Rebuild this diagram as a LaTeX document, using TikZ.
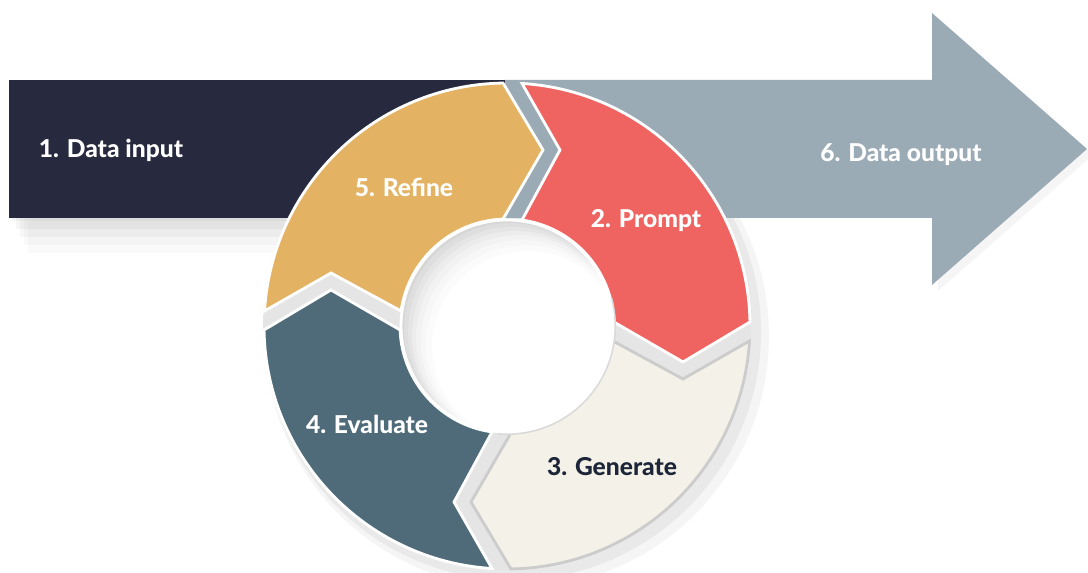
\documentclass[tikz,border=0pt]{standalone}
\usepackage{fontspec}
\setmainfont{Lato}[BoldFont={Lato Heavy}]
\usepackage{tikz}
\usetikzlibrary{positioning}
\usetikzlibrary{calc}
\usepackage{color}

\definecolor{navy}{HTML}{272A3E}
\definecolor{steel}{HTML}{9BABB5}
\definecolor{mustard}{HTML}{E3B262}
\definecolor{coral}{HTML}{EF6461}
\definecolor{ivory}{HTML}{F4F2E8}
\definecolor{slate}{HTML}{4F6B79}
\definecolor{ink}{HTML}{1C2638}

\begin{document}
\begin{tikzpicture}[
x=0.02cm, y=0.02cm,
bigtext/.style={font=\bfseries\fontsize{14}{16}\selectfont, text=white},
segtext/.style={font=\bfseries\fontsize{14}{16}\selectfont, text=white},
segedge/.style={draw=white, line width=1.6pt, line join=miter},
ringseg/.pic={
  \path[pic actions] (176.46:243) arc[start angle=176.46, end angle=90.94, radius=243]
    -- (36,176) -- (92.14:107) arc[start angle=92.14, end angle=171.94, radius=107]
    -- (-176,53) -- cycle;
},
]
\useasboundingbox (0,0) rectangle (1088,573);
\coordinate (hub) at (507,247);

%Shadows
\fill[black, opacity=0.04] (12,352) rectangle (505,490);
\fill[black, opacity=0.035] (16,344) rectangle (505,486);
\fill[black, opacity=0.03] (20,336) rectangle (505,482);
\fill[black, opacity=0.025] (24,328) rectangle (505,478);
\fill[black, opacity=0.02] (28,320) rectangle (505,474);
\fill[black, opacity=0.04] (938,282) -- (1093,418) -- (938,554) -- cycle;
\fill[black, opacity=0.05] ($(hub)+(6,-6)$) circle[radius=248];
\fill[black, opacity=0.04] ($(hub)+(10,-10)$) circle[radius=252];
\fill[black!10] (hub) circle[radius=244];

%Bars
\fill[steel] (505,355) -- (932,355) -- (932,288) -- (1087,424)
  -- (932,560) -- (932,493) -- (505,493) -- cycle;
\fill[navy] (9,355) rectangle (505,493);

%Ring
\pic[fill=mustard, segedge] at (hub) {ringseg};
\pic[rotate=-90, fill=coral, segedge] at (hub) {ringseg};
\pic[rotate=-180, fill=ivory, draw=black!20, line width=1.6pt] at (hub) {ringseg};
\pic[rotate=90, fill=slate, segedge] at (hub) {ringseg};

%Hole in the middle
\begin{scope}
\clip (hub) circle[radius=106];
\fill[black!16] (hub) circle[radius=106];
\fill[black!13] ($(hub)+(3,-3)$) circle[radius=106];
\fill[black!10] ($(hub)+(6,-6)$) circle[radius=105];
\fill[black!7.5] ($(hub)+(9,-9)$) circle[radius=104];
\fill[black!5] ($(hub)+(12,-12)$) circle[radius=103];
\fill[black!3] ($(hub)+(15,-15)$) circle[radius=101];
\fill[black!1.5] ($(hub)+(18,-18)$) circle[radius=99];
\fill[white] ($(hub)+(21,-21)$) circle[radius=96];
\end{scope}
\draw[black!15, line width=1.2pt] ($(hub)+(-95:108)$) arc[start angle=-95, end angle=15, radius=108];
\draw[white, line width=1.6pt] (hub) circle[radius=106];

%Text
\node[bigtext] (datain)   at (111,423) {1. Data input};
\node[bigtext] (dataout)  at (901,418) {6. Data output};
\node[segtext] (refine)   at (404,386) {5. Refine};
\node[segtext] (prompt)   at (646,352) {2. Prompt};
\node[segtext, text=ink] (generate) at (612,106) {3. Generate};
\node[segtext] (evaluate) at (367,149) {4. Evaluate};
\end{tikzpicture}
\end{document}
